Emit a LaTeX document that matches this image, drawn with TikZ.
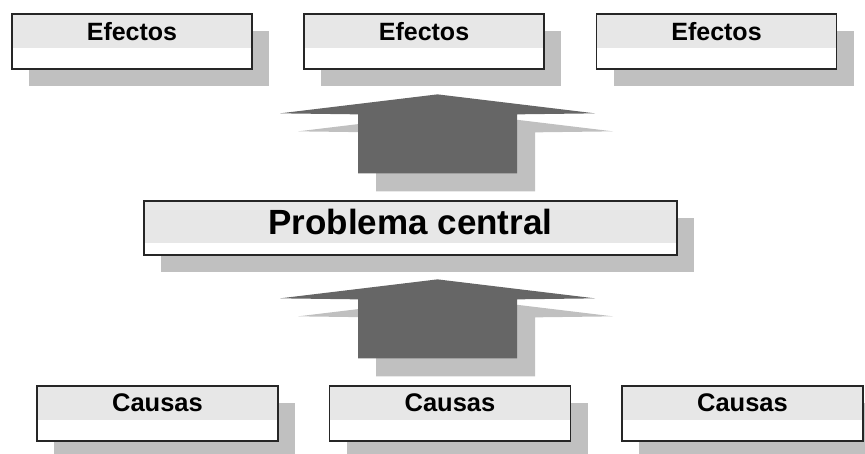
\documentclass[tikz,border=0pt]{standalone}
\usepackage{fontspec}
\setmainfont{Liberation Sans}
\usetikzlibrary{shadows}
\definecolor{arbol_banda}{RGB}{231,231,231}
\definecolor{arbol_sombra}{RGB}{192,192,192}
\definecolor{arbol_flecha}{RGB}{102,102,102}
\tikzset{caja/.style={rectangle,draw=black!85,line width=1.3pt,fill=white,inner sep=0pt,
  minimum width=240pt,minimum height=55pt,
  drop shadow={shadow xshift=17pt,shadow yshift=-17pt,fill=arbol_sombra,opacity=1},
  path picture={\fill[arbol_banda] (path picture bounding box.north west)
    rectangle ([yshift=#1]path picture bounding box.south east);}},
  caja/.default=21pt}
\tikzstyle{txt_efecto}=[font=\fontsize{25}{30}\selectfont\bfseries,text height=18pt,text depth=21pt]
\tikzstyle{txt_causa}=[font=\fontsize{25.5}{30}\selectfont\bfseries,text height=18pt,text depth=23pt]
\tikzstyle{txt_central}=[font=\fontsize{35}{40}\selectfont\bfseries,text height=25pt,text depth=13pt]
% flecha gruesa: #1 = centro de la base
\newcommand{\flechagorda}[1]{%
  \begin{scope}[shift={(#1)}]
    \fill[arbol_sombra,shift={(18,18)}] (-79.5,0) -- (-79.5,-59) -- (-157.5,-60) -- (0,-79)
      -- (157.5,-60) -- (79.5,-59) -- (79.5,0) -- cycle;
    \fill[arbol_flecha] (-79.5,0) -- (-79.5,-59) -- (-157.5,-60) -- (0,-79)
      -- (157.5,-60) -- (79.5,-59) -- (79.5,0) -- cycle;
  \end{scope}}

\begin{document}
\begin{tikzpicture}[x=1pt,y=-1pt]
            \useasboundingbox (0,0) rectangle (865,453);
            \node [caja,txt_efecto] (ef1) at (132,41.5) {Efectos};
            \node [caja,txt_efecto] (ef2) at (424,41.5) {Efectos};
            \node [caja,txt_efecto] (ef3) at (716.5,41.5) {Efectos};
            \node [caja=12pt,txt_central,minimum width=533pt,minimum height=54pt] (pc) at (410.5,228) {Problema central};
            \node [caja,txt_causa,minimum width=241pt] (ca1) at (157.5,413.5) {Causas};
            \node [caja,txt_causa,minimum width=241pt] (ca2) at (450,413.5) {Causas};
            \node [caja,txt_causa,minimum width=241pt] (ca3) at (742.5,413.5) {Causas};
            \coordinate (fl1) at ([xshift=-12.5pt,yshift=27pt]ca2.north);
            \coordinate (fl2) at ([xshift=27pt,yshift=27pt]pc.north);
            \flechagorda{fl1}
            \flechagorda{fl2}
    \end{tikzpicture}
\end{document}
